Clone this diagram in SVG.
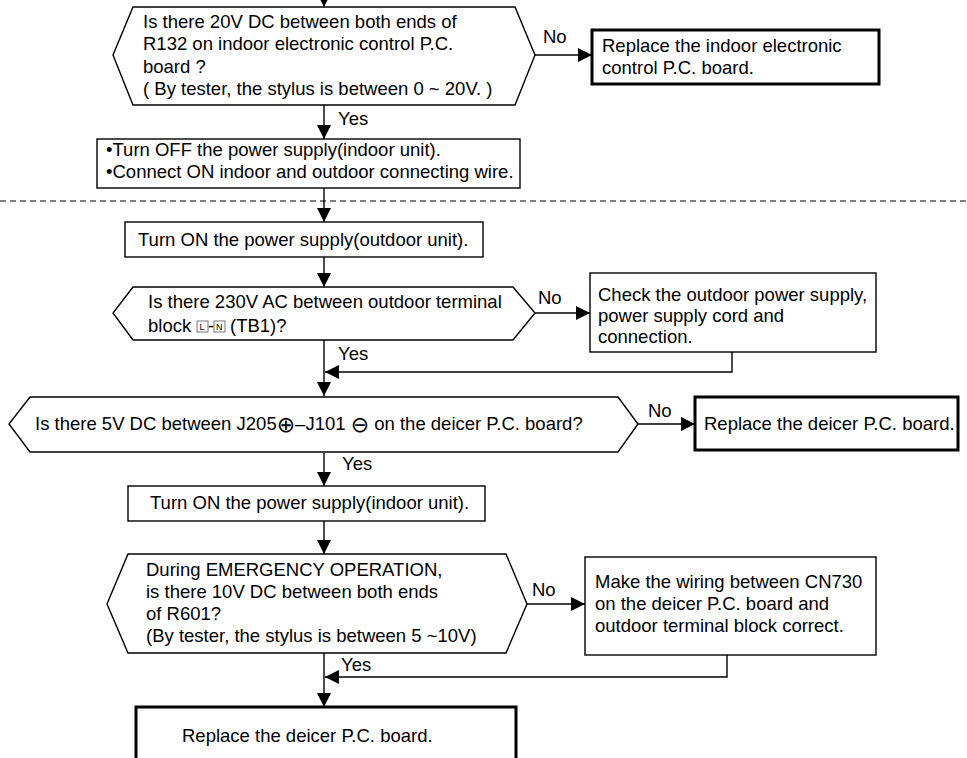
<svg xmlns="http://www.w3.org/2000/svg" width="967" height="758" viewBox="0 0 967 758">
<style>
.t{font-family:"Liberation Sans",Arial,sans-serif;font-size:18.5px;fill:#000}
.s{font-family:"DejaVu Sans","Liberation Sans",sans-serif;font-size:22px}
.n{fill:#fff;stroke:#000;stroke-width:1.4}
.k{fill:#fff;stroke:#000;stroke-width:3}
.c{fill:none;stroke:#000;stroke-width:1.4}
.d{fill:none;stroke:#000;stroke-width:1.2;stroke-dasharray:6 4}
.sq{fill:#fff;stroke:#555;stroke-width:0.8}
.sl{font-family:"Liberation Sans",Arial,sans-serif;font-size:9px;fill:#000}
</style>
<defs>
<marker id="a" viewBox="0 0 10 10" refX="10" refY="5" markerWidth="14" markerHeight="14" markerUnits="userSpaceOnUse" orient="auto">
<path d="M0,0 L10,5 L0,10 z" fill="#000"/>
</marker>
</defs>
<line class="d" x1="0" y1="201" x2="967" y2="201"/>
<g id="connectors">
<line class="c" x1="324" y1="-5" x2="324" y2="7" marker-end="url(#a)"/>
<line class="c" x1="535" y1="55" x2="592" y2="55" marker-end="url(#a)"/>
<line class="c" x1="324" y1="105" x2="324" y2="139" marker-end="url(#a)"/>
<line class="c" x1="324" y1="188" x2="324" y2="222" marker-end="url(#a)"/>
<line class="c" x1="324" y1="257" x2="324" y2="287" marker-end="url(#a)"/>
<line class="c" x1="535" y1="313" x2="590" y2="313" marker-end="url(#a)"/>
<polyline class="c" points="732,352 732,372 325,372" marker-end="url(#a)"/>
<line class="c" x1="324" y1="340" x2="324" y2="396" marker-end="url(#a)"/>
<line class="c" x1="638" y1="424" x2="695" y2="424" marker-end="url(#a)"/>
<line class="c" x1="324" y1="453" x2="324" y2="486" marker-end="url(#a)"/>
<line class="c" x1="324" y1="521" x2="324" y2="554" marker-end="url(#a)"/>
<line class="c" x1="527" y1="604" x2="585" y2="604" marker-end="url(#a)"/>
<polyline class="c" points="727,655 727,677 325,677" marker-end="url(#a)"/>
<line class="c" x1="324" y1="653" x2="324" y2="707" marker-end="url(#a)"/>
<text class="t" x="543" y="43">No</text>
<text class="t" x="338" y="125">Yes</text>
<text class="t" x="538" y="304">No</text>
<text class="t" x="338" y="360">Yes</text>
<text class="t" x="648" y="417">No</text>
<text class="t" x="342" y="470">Yes</text>
<text class="t" x="532" y="596">No</text>
<text class="t" x="341" y="671">Yes</text>
</g>
<g id="q1">
<polygon class="n" points="133,7 515,7 535,55 515,105 133,105 113,55"/>
<text class="t" x="143" y="28">Is there 20V DC between both ends of</text>
<text class="t" x="143" y="50">R132 on indoor electronic control P.C.</text>
<text class="t" x="143" y="73">board ?</text>
<text class="t" x="143" y="95">( By tester, the stylus is between 0 ~ 20V. )</text>
</g>
<g id="r1">
<rect class="k" x="592" y="30" width="287" height="54"/>
<text class="t" x="602" y="52">Replace the indoor electronic</text>
<text class="t" x="602" y="74">control P.C. board.</text>
</g>
<g id="s1">
<rect class="n" x="97" y="139" width="423" height="49"/>
<text class="t" x="106" y="156">•Turn OFF the power supply(indoor unit).</text>
<text class="t" x="106" y="178">•Connect ON indoor and outdoor connecting wire.</text>
</g>
<g id="s2">
<rect class="n" x="125" y="222" width="358" height="35"/>
<text class="t" x="138" y="246">Turn ON the power supply(outdoor unit).</text>
</g>
<g id="q2">
<polygon class="n" points="133,287 513,287 535,313 513,340 133,340 113,313"/>
<text class="t" x="148" y="308">Is there 230V AC between outdoor terminal</text>
<text class="t" x="148" y="332">block</text>
<rect class="sq" x="197" y="321" width="11" height="11"/>
<text class="sl" x="199.5" y="330">L</text>
<text class="t" x="208" y="332">-</text>
<rect class="sq" x="214" y="321" width="11" height="11"/>
<text class="sl" x="216" y="330">N</text>
<text class="t" x="230" y="332">(TB1)?</text>
</g>
<g id="r2">
<rect class="n" x="590" y="273" width="286" height="79"/>
<text class="t" x="598" y="301">Check the outdoor power supply,</text>
<text class="t" x="598" y="322">power supply cord and</text>
<text class="t" x="598" y="343">connection.</text>
</g>
<g id="q3">
<polygon class="n" points="30,397 618,397 638,424 618,452 30,452 9,424"/>
<text class="t" x="35" y="430">Is there 5V DC between J205<tspan class="s" dy="2">⊕</tspan><tspan dy="-2">–J101 </tspan><tspan class="s" dy="2">⊖</tspan><tspan dy="-2"> on the deicer P.C. board?</tspan></text>
</g>
<g id="r3">
<rect class="k" x="695" y="397" width="263" height="53"/>
<text class="t" x="704" y="430">Replace the deicer P.C. board.</text>
</g>
<g id="s3">
<rect class="n" x="128" y="486" width="357" height="35"/>
<text class="t" x="150" y="509">Turn ON the power supply(indoor unit).</text>
</g>
<g id="q4">
<polygon class="n" points="128,554 506,554 527,604 506,653 128,653 107,604"/>
<text class="t" x="146" y="576">During EMERGENCY OPERATION,</text>
<text class="t" x="146" y="598">is there 10V DC between both ends</text>
<text class="t" x="146" y="620">of R601?</text>
<text class="t" x="146" y="642">(By tester, the stylus is between 5 ~10V)</text>
</g>
<g id="r4">
<rect class="n" x="585" y="557" width="291" height="98"/>
<text class="t" x="595" y="588">Make the wiring between CN730</text>
<text class="t" x="595" y="610">on the deicer P.C. board and</text>
<text class="t" x="595" y="632">outdoor terminal block correct.</text>
</g>
<g id="r5">
<rect class="k" x="136" y="707" width="380" height="60"/>
<text class="t" x="182" y="742">Replace the deicer P.C. board.</text>
</g>
</svg>
